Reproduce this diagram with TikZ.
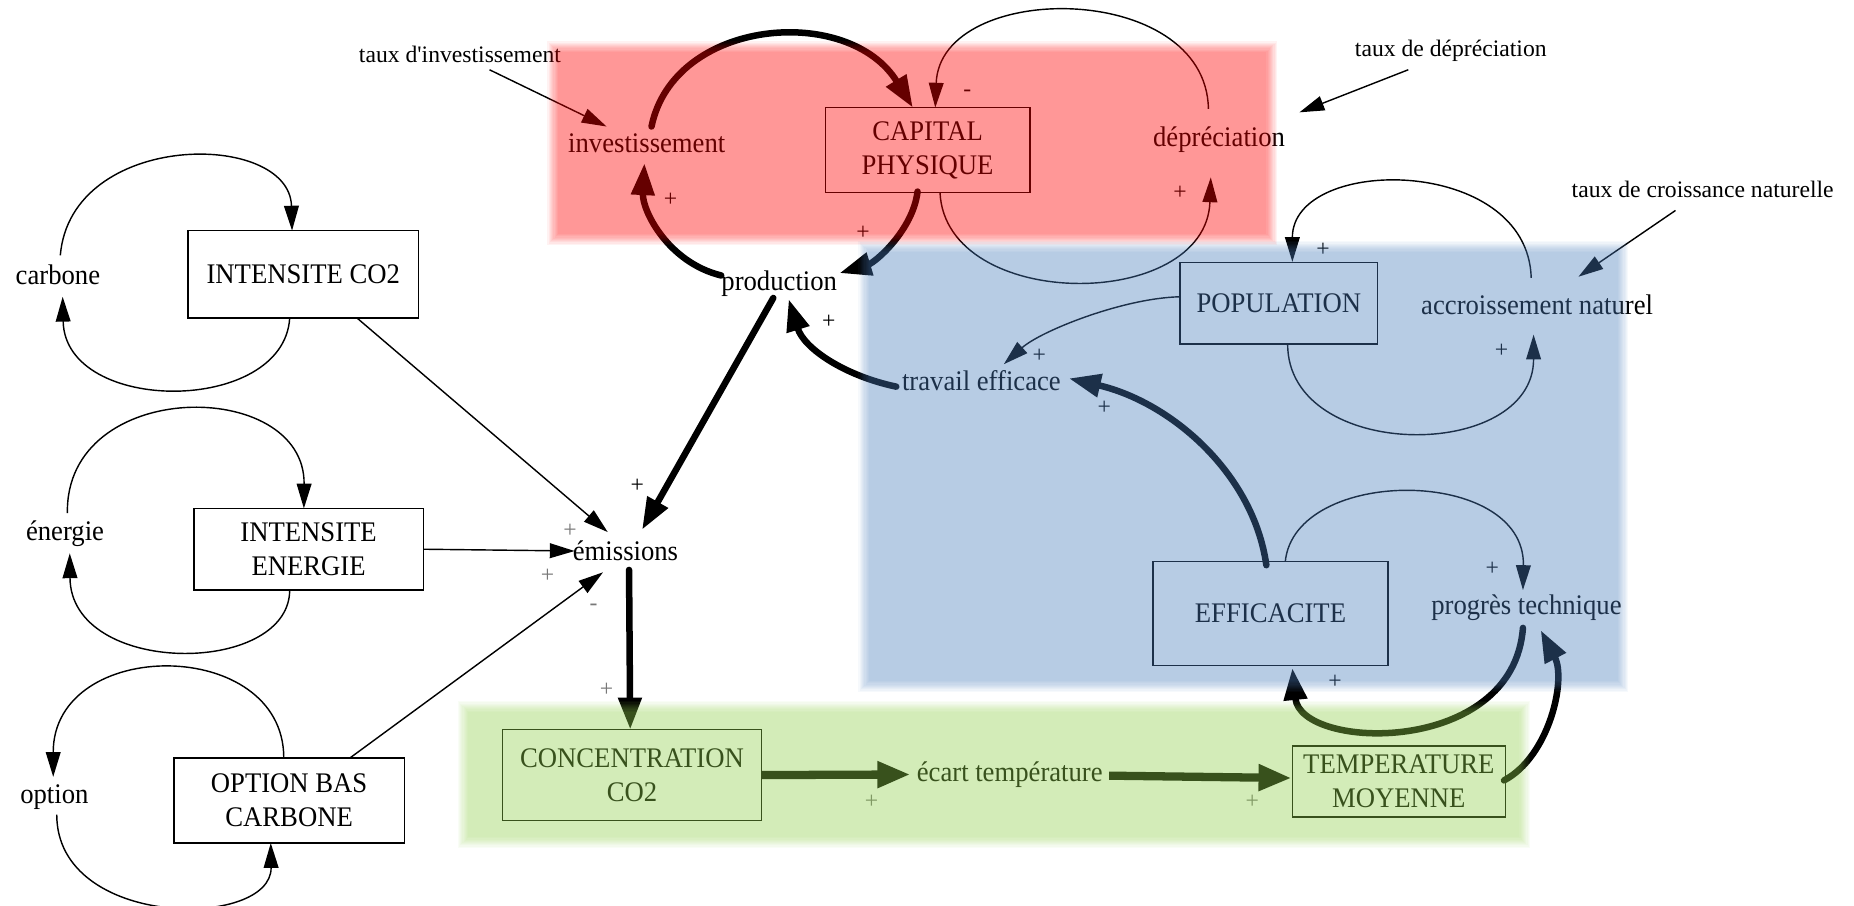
\documentclass[tikz,border=0pt]{standalone}
\usepackage{fontspec}
\setmainfont{Liberation Serif}[FakeStretch=0.94]
\newfontfamily\paramserif{Liberation Serif}
\usetikzlibrary{arrows.meta,calc}

\definecolor{tintred}{RGB}{255,0,0}
\definecolor{tintblue}{RGB}{79,129,189}
\definecolor{tintgreen}{RGB}{146,208,80}
\definecolor{signgray}{RGB}{120,120,120}

\begin{document}
\begin{tikzpicture}[x=1pt,y=-1pt,
  every node/.style={inner sep=0pt, font=\fontsize{24}{29}\selectfont},
  stock/.style={draw, line width=1.2pt, align=center},
  param/.style={font=\paramserif\fontsize{20}{24}\selectfont},
  sign/.style={font=\paramserif\fontsize{20}{20}\selectfont},
  faint/.style={sign, text=signgray},
  link/.style={line width=1.2pt, -{Triangle[length=21pt,width=12.5pt]}},
  flow/.style={line width=5.5pt, line cap=round, -{Triangle[length=27pt,width=19pt]}},
  heavy/.style={line width=7pt, -{Triangle[length=28pt,width=21pt]}}]
\useasboundingbox (0,0) rectangle (1568,766);

% ---------- variables ----------
\node[param] (tinv) at (389,46) {taux d'investissement};
\node (inv) at (547,121) {investissement};
\node[stock, minimum width=173pt, minimum height=72pt] (cap) at (784.5,127) {CAPITAL\\PHYSIQUE};
\node (dep) at (1031,118) {dépréciation};
\node[param] (tdep) at (1227,43) {taux de dépréciation};
\node[param] (tcn) at (1440,160) {taux de croissance naturelle};
\node (carb) at (49,232) {carbone};
\node[stock, minimum width=195pt, minimum height=74pt] (ico2) at (256.5,232) {INTENSITE CO2};
\node (prod) at (659,240) {production};
\node[stock, minimum width=167pt, minimum height=69pt] (pop) at (1081.5,256.5) {POPULATION};
\node (acc) at (1300,258) {accroissement naturel};
\node (trav) at (830,322) {travail efficace};
\node (ener) at (55,451) {énergie};
\node[stock, minimum width=194pt, minimum height=69pt] (ien) at (261,464.5) {INTENSITE\\ENERGIE};
\node (emi) at (529,466) {émissions};
\node[stock, minimum width=199pt, minimum height=88pt] (eff) at (1074.5,519) {EFFICACITE};
\node (prog) at (1291,514) {progrès technique};
\node (opt) at (46,674) {option};
\node[stock, minimum width=195pt, minimum height=72pt] (obc) at (244.5,677) {OPTION BAS\\CARBONE};
\node[stock, minimum width=219pt, minimum height=77pt] (conc) at (534.5,655.5) {CONCENTRATION\\CO2};
\node (ecart) at (854,655) {écart température};
\node[stock, minimum width=180pt, minimum height=60pt] (temp) at (1183,661) {TEMPERATURE\\MOYENNE};

% ---------- capital loop ----------
\draw[link] ($(tinv)+(25,13)$) -- ($(inv)+(-34,-14)$);
\draw[flow] ($(inv)+(4,-14)$) .. controls (570,15) and (718,3) .. ($(cap)+(-12.5,-36)$);
\draw[link] ($(dep)+(-9,-26)$) .. controls (1020,-17) and (795,-17) .. ($(cap)+(6.5,-36)$);
\draw[link] ($(cap)+(10.5,36)$) .. controls (800,264) and (1020,264) .. ($(dep)+(-7,32)$);
\draw[flow] ($(cap)+(-8.5,35)$) .. controls (772,195) and (740,222) .. ($(prod)+(51,-9)$);
\draw[flow] ($(prod)+(-49,-7)$) .. controls (565,222) and (543,178) .. ($(inv)+(-2,17)$);
\draw[link] ($(tdep)+(-36,16)$) -- ($(dep)+(68,-23)$);

% ---------- population and efficiency ----------
\draw[link] ($(tcn)+(-23,18)$) -- ($(acc)+(35,-24)$);
\draw[link] ($(acc)+(-5,-23)$) .. controls (1292,131) and (1093,131) .. ($(pop)+(11.5,-35)$);
\draw[link] ($(pop)+(7.5,34.5)$) .. controls (1089,391) and (1297,391) .. ($(acc)+(-3,25)$);
\draw[link] ($(pop)+(-83.5,-5.5)$) .. controls (950,252) and (880,280) .. ($(trav)+(19,-14)$);
\draw[flow] ($(trav)+(-72,5)$) .. controls (715,318) and (680,295) .. ($(prod)+(8,13)$);
\draw[flow] ($(eff)+(-3.5,-41)$) .. controls (1060,400) and (990,340) .. ($(trav)+(74,-2)$);
\draw[link] ($(eff)+(12.5,-44)$) .. controls (1095,394) and (1290,394) .. ($(prog)+(-3,-15)$);
\draw[flow] ($(prog)+(-3,17)$) .. controls (1280,640) and (1100,635) .. ($(eff)+(18.5,46)$);
\draw[flow] ($(temp)+(89,-1)$) .. controls (1310,640) and (1325,575) .. ($(prog)+(12,19)$);

% ---------- emissions chain ----------
\draw[flow] ($(prod)+(-5,12)$) -- ($(emi)+(14,-18)$);
\draw[link] ($(ico2)+(45.5,37)$) -- ($(emi)+(-15,-16)$);
\draw[link] (ien.east) -- ($(emi)+(-43,0)$);
\draw[link] ($(obc)+(51.5,-36)$) -- ($(emi)+(-19,18)$);
\draw[flow] ($(emi)+(3,16)$) -- ($(conc)+(-1.5,-38.5)$);
\draw[heavy] (conc.east) -- ($(ecart)+(-84,0)$);
\draw[heavy] ($(ecart)+(84,1)$) -- ($(temp.west)+(0,-3)$);

% ---------- intensity loops ----------
\draw[link] ($(carb)+(2,-16)$) .. controls (60,110) and (245,110) .. ($(ico2)+(-9.5,-37)$);
\draw[link] ($(ico2)+(-11.5,37)$) .. controls (240,351) and (55,351) .. ($(carb)+(4,19)$);
\draw[link] ($(ener)+(2,-17)$) .. controls (55,319) and (258,319) .. ($(ien)+(-4,-34.5)$);
\draw[link] ($(ien)+(-16,35.5)$) .. controls (243,572) and (60,572) .. ($(ener)+(4,17)$);
\draw[link] ($(obc)+(-4.5,-36)$) .. controls (240,538) and (45,538) .. ($(opt)+(-1,-17)$);
\draw[link] ($(opt)+(2,15)$) .. controls (48,786) and (230,786) .. ($(obc)+(-15.5,36)$);

% ---------- polarity signs ----------
\node[sign] (s1) at (567,169) {+};
\node[sign] (s2) at (730,197) {+};
\node[sign] (s3) at (818,79) {-};
\node[sign] (s4) at (998,163) {+};
\node[sign] (s5) at (701,272) {+};
\node[sign] (s6) at (879,301) {+};
\node[sign] (s7) at (934,345) {+};
\node[sign] (s8) at (1119,211) {+};
\node[sign] (s9) at (1270,297) {+};
\node[sign] (s10) at (1262,481) {+};
\node[sign] (s11) at (1129,577) {+};
\node[sign] (s12) at (539,411) {+};
\node[faint] (s13) at (482,449) {+};
\node[faint] (s14) at (463,487) {+};
\node[faint] (s15) at (502,514) {-};
\node[faint] (s16) at (513,583) {+};
\node[faint] (s17) at (737,678) {+};
\node[faint] (s18) at (1059,678) {+};

% ---------- tinted panels with soft edges ----------
\foreach \i in {0,...,9}{
  \fill[tintred, fill opacity=0.05] (463+\i,35+\i) rectangle (1080-\i,207-\i);
  \fill[tintblue, fill opacity=0.05] (726+\i,204+\i) rectangle (1377-\i,585-\i);
  \fill[tintgreen, fill opacity=0.05] (387+\i,593+\i) rectangle (1294-\i,717-\i);
}
\end{tikzpicture}
\end{document}
